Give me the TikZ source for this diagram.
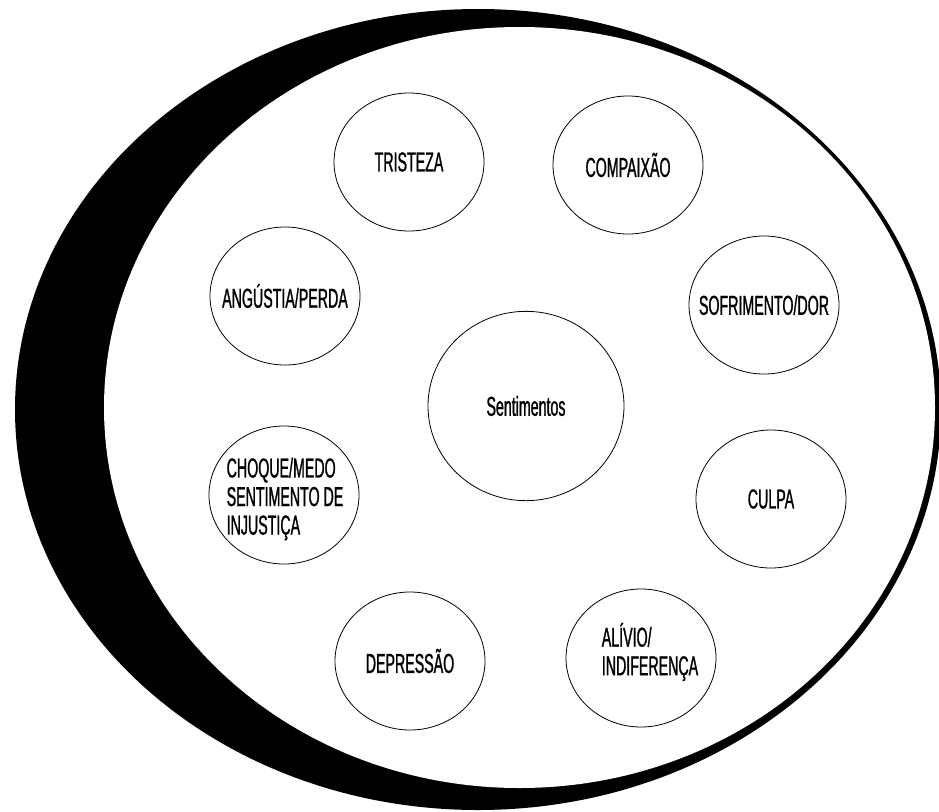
\documentclass[tikz,border=0pt]{standalone}
\usepackage{fontspec}
\newfontfamily\feelfont[FakeStretch=0.52, FakeBold=1]{Liberation Sans}
\usetikzlibrary{shapes.geometric}

\begin{document}
\begin{tikzpicture}[x=0.75pt, y=-0.75pt,
    feel/.style={ellipse, draw, line width=0.6pt, inner sep=0pt,
        minimum width=112.5pt, minimum height=103.5pt},
    hub/.style={feel, minimum width=147pt, minimum height=142pt},
    feeltext/.style={inner sep=0pt, align=left,
        font=\feelfont\fontsize{20.5}{21.4}\selectfont}
    ]
    \useasboundingbox (0,0) rectangle (939,811);

    % Outer ring
    \fill[black] (478,409.5) ellipse [x radius=463, y radius=400.5];
    \fill[white] (519.5,407.5) ellipse [x radius=415.5, y radius=380.5];

    % Centre
    \node[hub] (sent) at (526,406) {};
    \node[feeltext] at (sent) {Sentimentos};

    % Feelings round it
    \node[feel] (trist) at (409,162) {};
    \node[feeltext] at (trist) {TRISTEZA};
    \node[feel] (compa) at (628,165) {};
    \node[feeltext] at (compa) {COMPAIXÃO};
    \node[feel] (angus) at (285,296) {};
    \node[feeltext] at (angus) {ANGÚSTIA/PERDA};
    \node[feel] (sofri) at (764,305) {};
    \node[feeltext] at (sofri) {SOFRIMENTO/DOR};
    \node[feel] (choq) at (284,495) {};
    \node[feeltext] at (285,499) {CHOQUE/MEDO\\SENTIMENTO DE\\INJUSTIÇA};
    \node[feel] (culpa) at (771,499) {};
    \node[feeltext] at (culpa) {CULPA};
    \node[feel] (depre) at (410,661) {};
    \node[feeltext] at (depre) {DEPRESSÃO};
    \node[feel] (alivio) at (641,658) {};
    \node[feeltext] at (650,652) {ALÍVIO/\\INDIFERENÇA};
\end{tikzpicture}
\end{document}
